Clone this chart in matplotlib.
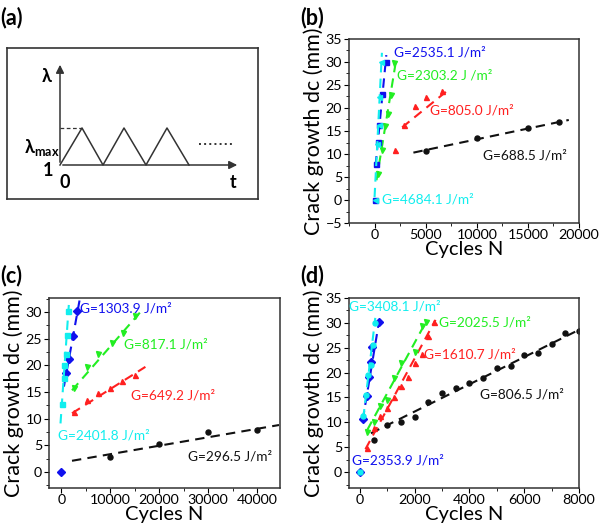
import matplotlib
matplotlib.use("Agg")
import matplotlib.pyplot as plt
from matplotlib.ticker import MultipleLocator

plt.rcParams['font.family'] = ['Lato', 'DejaVu Sans']

# ---- panel (a) schematic, pixel coords of the sketch
a_tri_x = [60, 82, 103, 124, 146, 167, 189]
a_tri_y = [165, 128, 165, 128, 165, 128, 165]

# ---- panel (b)
b_black_N = [5000, 10000, 15000, 18000]
b_black_d = [10.7, 13.4, 15.6, 16.9]
b_black_fit = ([3800, 19000], [10.3, 17.4])
b_red_N = [2000, 2900, 4000, 5000, 6600]
b_red_d = [10.8, 16.3, 20.4, 22.3, 23.6]
b_red_fit = ([2700, 7200], [15.8, 23.9])
b_green_N = [350, 750, 1000, 1300, 1650, 1950]
b_green_d = [5.7, 10.9, 16.0, 18.6, 22.8, 29.8]
b_green_fit = ([190, 2100], [4.3, 30.3])
b_blue_N = [0, 190, 320, 450, 720, 1150]
b_blue_d = [0, 7.8, 12.6, 16.3, 23.0, 30.0]
b_blue_fit = ([100, 1150], [7.5, 31.5])
b_cyan_N = [0, 260, 400, 420, 600]
b_cyan_d = [0, 12.2, 16.2, 22.3, 30.0]
b_cyan_fit = ([0, 720], [0.6, 32.0])

# ---- panel (c)
c_black_N = [10000, 20000, 30000, 40000]
c_black_d = [2.9, 5.2, 7.5, 7.9]
c_black_fit = ([2200, 44500], [2.1, 8.8])
c_red_N = [2600, 5200, 7500, 10000, 12500, 15000]
c_red_d = [11.3, 13.5, 14.8, 15.8, 17.1, 18.2]
c_red_fit = ([2200, 17200], [11.0, 19.7])
c_green_N = [2600, 5200, 7500, 10300, 12600, 15000]
c_green_d = [15.8, 19.7, 22.1, 24.1, 26.1, 29.2]
c_green_fit = ([2200, 16200], [15.3, 30.0])
c_blue_N = [0, 1000, 1600, 2400, 3300]
c_blue_d = [0, 18.6, 21.2, 25.5, 30.1]
c_blue_fit = ([550, 3750], [16.0, 32.2])
c_cyan_N = [200, 500, 600, 900, 1100, 1400]
c_cyan_d = [12.7, 17.7, 20.0, 22.1, 25.6, 30.1]
c_cyan_fit = ([-150, 1550], [9.1, 31.3])

# ---- panel (d)
d_black_N = [500, 1000, 1500, 2000, 2500, 3000, 3500, 4000, 4500, 5000, 5500, 6000, 6500, 7000, 7500, 8000]
d_black_d = [6.5, 9.5, 10.0, 11.0, 14.0, 15.9, 16.9, 17.9, 19.0, 20.9, 21.4, 23.6, 23.9, 25.7, 27.9, 28.3]
d_black_fit = ([400, 8000], [7.8, 28.6])
d_red_N = [250, 500, 750, 1000, 1250, 1500, 1750, 2000, 2250, 2500, 2700]
d_red_d = [4.9, 8.8, 11.2, 12.8, 15.0, 17.3, 19.1, 21.9, 23.8, 27.3, 30.2]
d_red_fit = ([200, 2760], [4.6, 30.6])
d_green_N = [270, 530, 750, 1000, 1250, 1500, 2000, 2250, 2400]
d_green_d = [8.1, 10.1, 13.2, 14.5, 18.9, 21.9, 24.2, 29.3, 30.2]
d_green_fit = ([270, 2450], [8.5, 30.6])
d_blue_N = [0, 110, 270, 330, 390, 450, 690]
d_blue_d = [0, 10.6, 15.2, 19.2, 22.2, 25.2, 30.1]
d_blue_fit = ([100, 700], [10.4, 30.4])
d_cyan_N = [0, 120, 210, 300, 410, 490, 540]
d_cyan_d = [0, 11.2, 15.5, 19.5, 21.6, 25.6, 30.0]
d_cyan_fit = ([120, 560], [10.8, 31.0])

RED = '#ff2020'
GREEN = '#22ee22'
BLUE = '#1010ee'
CYAN = '#11eeee'
BLACK = '#111111'
FS = 9.8


def series(ax, N, d, fit, color, marker):
    ax.plot(fit[0], fit[1], '--', color=color, lw=1.5, dashes=(4.5, 3))
    ax.plot(N, d, linestyle='none', marker=marker, color=color, ms=3.6)


def style(ax, xlim, ylim, xmaj, xmin, ymaj, ymin, yticks):
    ax.set_xlim(xlim)
    ax.set_ylim(ylim)
    ax.xaxis.set_major_locator(MultipleLocator(xmaj))
    ax.xaxis.set_minor_locator(MultipleLocator(xmin))
    ax.set_yticks(yticks)
    ax.yaxis.set_minor_locator(MultipleLocator(ymin))
    ax.tick_params(which='both', direction='out', top=False, right=False, labelsize=10.3)
    ax.tick_params(axis='x', pad=0.5)
    ax.tick_params(axis='y', pad=1.5)
    ax.tick_params(which='major', length=3.5)
    ax.tick_params(which='minor', length=2.2)
    for s in ax.spines.values():
        s.set_linewidth(1.1)
        s.set_color('#333333')
    ax.set_xlabel('Cycles N', fontsize=14.5, labelpad=0)
    ax.set_ylabel('Crack growth dc (mm)', fontsize=15.5, labelpad=1)


fig = plt.figure(figsize=(6, 5.29), dpi=100)

# (a)
ax = fig.add_axes([7 / 600, 1 - 199 / 529, 251 / 600, 151 / 529])
ax.set_xlim(7, 258)
ax.set_ylim(199, 48)
ax.set_xticks([])
ax.set_yticks([])
for s in ax.spines.values():
    s.set_linewidth(1.2)
    s.set_color('#333333')
ax.plot(a_tri_x, a_tri_y, color='#333333', lw=1.1)
ax.annotate('', xy=(60, 62), xytext=(60, 165),
            arrowprops=dict(arrowstyle='-|>', color='#333333', lw=1.1, mutation_scale=12))
ax.annotate('', xy=(240, 165), xytext=(60, 165),
            arrowprops=dict(arrowstyle='-|>', color='#333333', lw=1.1, mutation_scale=12))
ax.plot([60, 82], [128, 128], '--', color='#333333', lw=0.9, dashes=(3, 2))
ax.plot([199, 233], [144, 144], ':', color='#333333', lw=1.4)
ax.text(47, 77, 'λ', fontsize=13, fontweight='bold', ha='center', va='center')
ax.text(24, 147, 'λ$_{\\mathregular{max}}$', fontsize=13, fontweight='bold', ha='left', va='center')
ax.text(48, 170, '1', fontsize=13, fontweight='bold', ha='center', va='center')
ax.text(65, 183, '0', fontsize=13, fontweight='bold', ha='center', va='center')
ax.text(233, 183, 't', fontsize=13, fontweight='bold', ha='center', va='center')

# (b)
ax = fig.add_axes([349 / 600, 1 - 223 / 529, 230 / 600, 184 / 529])
series(ax, b_black_N, b_black_d, b_black_fit, BLACK, 'o')
series(ax, b_red_N, b_red_d, b_red_fit, RED, '^')
series(ax, b_green_N, b_green_d, b_green_fit, GREEN, 'v')
series(ax, b_blue_N, b_blue_d, b_blue_fit, BLUE, 's')
series(ax, b_cyan_N, b_cyan_d, b_cyan_fit, CYAN, '<')
style(ax, (-2500, 20000), (-5, 35), 5000, 2500, 5, 2.5, range(-5, 36, 5))
ax.text(1900, 32.1, 'G=2535.1 J/m²', color=BLUE, fontsize=FS, va='center')
ax.text(2200, 27.0, 'G=2303.2 J /m²', color=GREEN, fontsize=FS, va='center')
ax.text(5400, 19.4, 'G=805.0 J/m²', color=RED, fontsize=FS, va='center')
ax.text(10600, 9.7, 'G=688.5 J/m²', color=BLACK, fontsize=FS, va='center')
ax.text(700, 0, 'G=4684.1 J/m²', color=CYAN, fontsize=FS, va='center')

# (c)
ax = fig.add_axes([49 / 600, 1 - 488 / 529, 231 / 600, 190 / 529])
series(ax, c_black_N, c_black_d, c_black_fit, BLACK, 'o')
series(ax, c_red_N, c_red_d, c_red_fit, RED, '^')
series(ax, c_green_N, c_green_d, c_green_fit, GREEN, 'v')
series(ax, c_blue_N, c_blue_d, c_blue_fit, BLUE, 'D')
series(ax, c_cyan_N, c_cyan_d, c_cyan_fit, CYAN, 's')
style(ax, (-2500, 44700), (-3, 32.6), 10000, 5000, 5, 2.5, range(0, 31, 5))
ax.text(3900, 30.6, 'G=1303.9 J/m²', color=BLUE, fontsize=FS, va='center')
ax.text(12900, 23.8, 'G=817.1 J/m²', color=GREEN, fontsize=FS, va='center')
ax.text(14300, 14.4, 'G=649.2 J/m²', color=RED, fontsize=FS, va='center')
ax.text(-700, 6.9, 'G=2401.8 J/m²', color=CYAN, fontsize=FS, va='center')
ax.text(25800, 2.9, 'G=296.5 J/m²', color=BLACK, fontsize=FS, va='center')

# (d)
ax = fig.add_axes([349 / 600, 1 - 488 / 529, 230 / 600, 190 / 529])
series(ax, d_black_N, d_black_d, d_black_fit, BLACK, 'o')
series(ax, d_red_N, d_red_d, d_red_fit, RED, '^')
series(ax, d_green_N, d_green_d, d_green_fit, GREEN, 'v')
series(ax, d_blue_N, d_blue_d, d_blue_fit, BLUE, 'D')
series(ax, d_cyan_N, d_cyan_d, d_cyan_fit, CYAN, 'o')
style(ax, (-400, 8000), (-3.2, 35), 2000, 1000, 5, 2.5, range(0, 36, 5))
ax.text(-400, 33.3, 'G=3408.1 J/m²', color=CYAN, fontsize=FS, va='center')
ax.text(2880, 30.0, 'G=2025.5 J/m²', color=GREEN, fontsize=FS, va='center')
ax.text(2330, 23.6, 'G=1610.7 J/m²', color=RED, fontsize=FS, va='center')
ax.text(4400, 15.5, 'G=806.5 J/m²', color=BLACK, fontsize=FS, va='center')
ax.text(-280, 2.4, 'G=2353.9 J/m²', color=BLUE, fontsize=FS, va='center')

# panel letters
for lab, x, y in [('(a)', 0.0, 0.988), ('(b)', 0.5, 0.988), ('(c)', 0.0, 0.499), ('(d)', 0.5, 0.499)]:
    fig.text(x, y, lab, fontsize=15.5, fontweight='bold', va='top', ha='left')

fig.savefig('out.png', dpi=100)
